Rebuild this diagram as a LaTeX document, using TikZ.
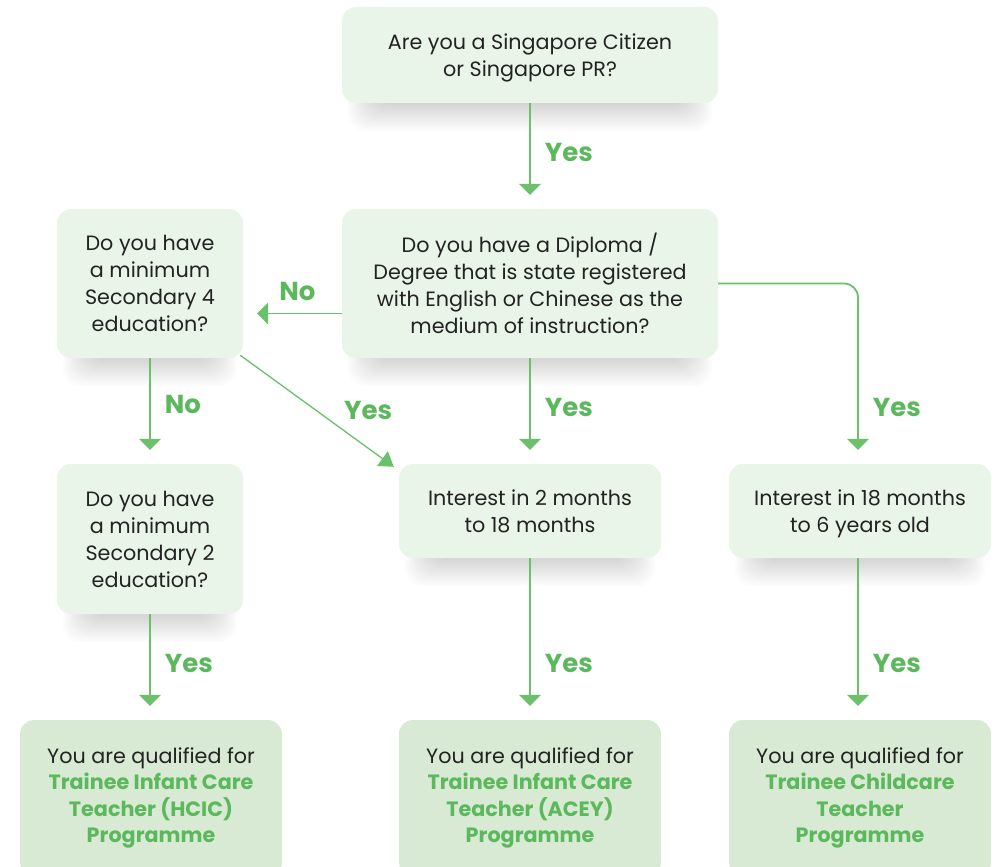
\documentclass[tikz,border=0pt]{standalone}
\usepackage{fontspec}
\setmainfont{Poppins}
\usetikzlibrary{arrows.meta,calc}
\pgfdeclarelayer{background}
\pgfsetlayers{background,main}
\definecolor{boxfill}{HTML}{EAF5E9}
\definecolor{resfill}{HTML}{D8EAD3}
\definecolor{gtext}{HTML}{5CB85C}
\definecolor{gline}{HTML}{6BC06B}
\definecolor{dtext}{HTML}{222222}
\newcommand{\qres}{\color{gtext}\bfseries}
\newcommand{\boxshade}[1]{%
  \foreach \k in {0,...,13}{%
    \fill[black, opacity=0.01, rounded corners=18pt]
      ([shift={(32-2*\k, -34)}]#1.south west) rectangle ([shift={(-32+2*\k, 2+2*\k)}]#1.south east);}}
\tikzset{
  qbox/.style={draw=none, fill=boxfill, rounded corners=14pt, align=center,
    text=dtext, font=\fontsize{20.7}{27}\selectfont, inner sep=0pt},
  rbox/.style={qbox, fill=resfill, font=\fontsize{20.7}{26.3}\selectfont},
  arr/.style={draw=gline, line width=1.8pt, -{Triangle[width=22pt,length=11pt]}, shorten >=14pt},
  lbl/.style={text=gtext, font=\fontsize{26}{30}\selectfont\bfseries, inner sep=0pt}
}
\begin{document}
\begin{tikzpicture}[x=1pt,y=-1pt]
\useasboundingbox (0,0) rectangle (997,867);
% boxes
\node[qbox, minimum width=376pt, minimum height=96pt, text depth=0pt] (cit) at (530,55)
  {Are you a Singapore Citizen\\or Singapore PR?};
\node[qbox, minimum width=376pt, minimum height=149pt] (dip) at (530,283.5)
  {Do you have a Diploma /\\Degree that is state registered\\with English or Chinese as the\\medium of instruction?};
\node[qbox, minimum width=186pt, minimum height=149pt] (sec4) at (150,283.5)
  {Do you have\\a minimum\\Secondary 4\\education?};
\node[qbox, minimum width=186pt, minimum height=150pt] (sec2) at (150,539)
  {Do you have\\a minimum\\Secondary 2\\education?};
\node[qbox, minimum width=262pt, minimum height=94pt, text depth=0pt] (int2) at (530,511)
  {Interest in 2 months\\to 18 months};
\node[qbox, minimum width=262pt, minimum height=94pt, text depth=0pt] (int18) at (860,511)
  {Interest in 18 months\\to 6 years old};
\node[rbox, minimum width=262pt, minimum height=156pt] (hcic) at (151,798)
  {You are qualified for\\{\qres Trainee Infant Care}\\{\qres Teacher (HCIC)}\\{\qres Programme}};
\node[rbox, minimum width=262pt, minimum height=156pt] (acey) at (530,798)
  {You are qualified for\\{\qres Trainee Infant Care}\\{\qres Teacher (ACEY)}\\{\qres Programme}};
\node[rbox, minimum width=262pt, minimum height=156pt] (cc) at (860,798)
  {You are qualified for\\{\qres Trainee Childcare}\\{\qres Teacher}\\{\qres Programme}};
\begin{pgfonlayer}{background}
\fill[white] (0,0) rectangle (997,867);
\boxshade{cit}
\boxshade{dip}
\boxshade{sec4}
\boxshade{sec2}
\boxshade{int2}
\boxshade{int18}
\end{pgfonlayer}
% connectors
\draw[arr] (cit.south) -- node[lbl, right=14pt, pos=0.47] {Yes} (dip.north);
\draw[arr] ([yshift=-30pt]dip.west) -- node[lbl, above=12pt, pos=0.45] {No} ([yshift=-30pt]sec4.east);
\draw[arr] (sec4.south) -- node[lbl, right=14pt, pos=0.44] {No} (sec2.north);
\draw[draw=gline, line width=1.3pt, -{Triangle[width=18pt,length=14pt]}] ([shift={(-3pt,3pt)}]sec4.south east) -- node[lbl, pos=0.8, above=24pt, xshift=5pt] {Yes} ([shift={(-5pt,-3pt)}]int2.north west);
\draw[arr] (dip.south) -- node[lbl, right=14pt, pos=0.47] {Yes} (int2.north);
\draw[arr, rounded corners=14pt] (dip.east) -- ([xshift=-2pt]int18.north |- dip.east) -- node[lbl, right=14pt, pos=0.69] {Yes} ([xshift=-2pt]int18.north);
\draw[arr] (sec2.south) -- node[lbl, right=14pt, pos=0.47] {Yes} (sec2.south |- hcic.north);
\draw[arr] (int2.south) -- node[lbl, right=14pt, pos=0.65] {Yes} (acey.north);
\draw[arr] ([xshift=-2pt]int18.south) -- node[lbl, right=14pt, pos=0.65] {Yes} ([xshift=-2pt]cc.north);
\end{tikzpicture}
\end{document}
